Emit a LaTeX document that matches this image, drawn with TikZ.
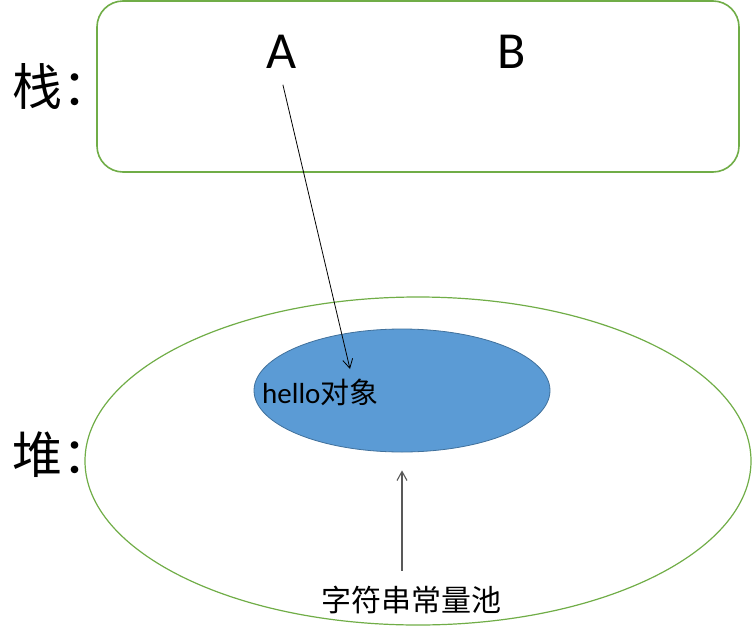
\documentclass[tikz,border=0pt]{standalone}
\usepackage{fontspec}
\setmainfont{Carlito}
\newfontfamily\cjk{Noto Sans CJK SC}
\usetikzlibrary{arrows.meta,positioning,shapes.geometric}
\definecolor{memgreen}{HTML}{70AD47}
\definecolor{objblue}{HTML}{5B9BD5}
\definecolor{objedge}{HTML}{41719C}
\tikzstyle{stackbox} = [draw=memgreen, line width=1.6pt, rounded corners=26pt, inner sep=0pt]
\tikzstyle{heapbox} = [ellipse, draw=memgreen, line width=1.2pt, inner sep=0pt]
\tikzstyle{object} = [ellipse, draw=objedge, fill=objblue, line width=0.8pt, inner sep=0pt]
\tikzstyle{label} = [inner sep=0pt]
\tikzstyle{ref} = [-{Straight Barb[length=9pt,width=10pt]}]

\begin{document}
\begin{tikzpicture}[x=1pt,y=-1pt]

	\useasboundingbox (0,0) rectangle (753,627);

	\node[stackbox, minimum width=642pt, minimum height=171pt] (stack) at (418,86.5) {};
	\node[heapbox, minimum width=666pt, minimum height=328pt] (heap) at (418,461) {};
	\node[object, minimum width=296pt, minimum height=123pt] (hello) at (402,390.5) {};

	\node[label, anchor=west] (stacklbl) at (12,86) {\cjk\fontsize{50}{50}\selectfont 栈：};
	\node[label, anchor=west] (heaplbl) at (12,455) {\cjk\fontsize{50}{50}\selectfont 堆：};

	\node[label, anchor=base] (A) at (282,68) {\fontsize{52}{52}\selectfont A};
	\node[label, anchor=base] (B) at (512,68) {\fontsize{52}{52}\selectfont B};

	\node[label, anchor=base west] (hellotxt) at (262,403) {\fontsize{29}{29}\selectfont hello{\cjk 对象}};
	\node[label] (pool) at (411,600) {\cjk\fontsize{30}{30}\selectfont 字符串常量池};

	\coordinate (objin) at (350,369);
	\draw[ref, line width=0.8pt, shorten <=17pt] ([xshift=-3pt]A.south) -- (objin);
	\draw[ref, line width=1.1pt, black!65, shorten <=15pt, shorten >=18pt] (hello.south |- pool.north) -- (hello.south);

\end{tikzpicture}
\end{document}
